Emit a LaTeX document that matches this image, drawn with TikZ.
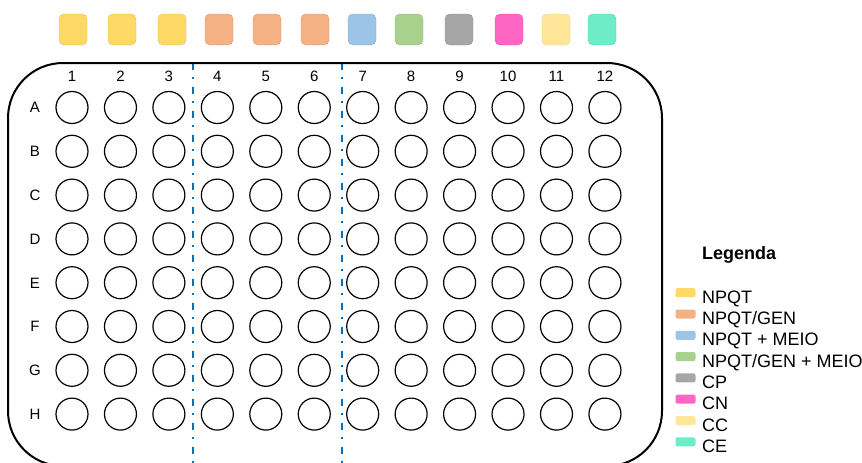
\documentclass[tikz,border=0pt]{standalone}
\usepackage{fontspec}
\setmainfont{Liberation Sans}
\begin{document}
\begin{tikzpicture}[x=1pt,y=-1pt]
        \definecolor{cyellow}{RGB}{255,217,102}
        \definecolor{corange}{RGB}{244,177,131}
        \definecolor{cblue}{RGB}{157,195,230}
        \definecolor{cgreen}{RGB}{169,209,142}
        \definecolor{cgray}{RGB}{166,166,166}
        \definecolor{cpink}{RGB}{255,102,196}
        \definecolor{clight}{RGB}{255,230,153}
        \definecolor{cteal}{RGB}{110,236,200}
        \definecolor{cline}{RGB}{0,112,192}
        \tikzset{
            well/.style={draw, circle, minimum size=32pt, inner sep=0pt, line width=1.2pt},
            lab/.style={font=\fontsize{15}{18}\selectfont, inner sep=0pt, anchor=base},
            tag/.style={rounded corners=5pt, minimum width=28pt, minimum height=31pt, inner sep=0pt},
            swatch/.style={rounded corners=2pt, minimum width=20pt, minimum height=9pt, inner sep=0pt},
            legtext/.style={font=\fontsize{18}{21}\selectfont, anchor=base west, inner sep=0pt},
            divider/.style={cline, line width=1.8pt, dash pattern=on 7pt off 7pt on 2pt off 8pt}
        }
        \useasboundingbox (0,0) rectangle (862,463);
        % colour tags above the columns
        \foreach \x/\c [count=\k] in {73/cyellow, 122/cyellow, 172/cyellow, 219/corange, 267/corange, 315/corange,
                                       362/cblue, 409/cgreen, 459/cgray, 509/cpink, 556/clight, 602/cteal}
            \node[tag, fill=\c, draw=\c!88!black, line width=0.4pt] (tag-\k) at (\x, 29.5) {};
        % plate
        \coordinate (div1-top) at (193, 63);
        \coordinate (div1-bot) at (193, 465);
        \coordinate (div2-top) at (342, 63);
        \coordinate (div2-bot) at (342, 465);
        \draw[divider] (div1-top) -- (div1-bot);
        \draw[divider] (div2-top) -- (div2-bot);
        \draw[line width=2pt, rounded corners=55pt] (8, 63) rectangle (662, 466);
        \foreach \col in {1,...,12}
            \node[lab] (col-\col) at ({72+48.45*(\col-1)}, 81.5) {\col};
        \foreach \row [count=\i] in {A,B,C,D,E,F,G,H} {
            \node[lab] (row-\row) at (35, {107.5+43.8*(\i-1)+5.4}) {\row};
            \foreach \col in {1,...,12}
                \node[well] (w-\row-\col) at ({72+48.45*(\col-1)}, {107.5+43.8*(\i-1)}) {};
        }
        % legend
        \node[legtext, font=\bfseries\fontsize{18}{21}\selectfont] (legenda) at (702, 259.5) {Legenda};
        \node[swatch, fill=cyellow] (sw-1) at (685.5, 292.7) {};
        \node[legtext] (lg-1) at (702, 303.2) {NPQT};
        \node[swatch, fill=corange] (sw-2) at (685.5, 314.0) {};
        \node[legtext] (lg-2) at (702, 324.5) {NPQT/GEN};
        \node[swatch, fill=cblue] (sw-3) at (685.5, 335.3) {};
        \node[legtext] (lg-3) at (702, 345.8) {NPQT + MEIO};
        \node[swatch, fill=cgreen] (sw-4) at (685.5, 356.6) {};
        \node[legtext] (lg-4) at (702, 367.1) {NPQT/GEN + MEIO};
        \node[swatch, fill=cgray] (sw-5) at (685.5, 377.9) {};
        \node[legtext] (lg-5) at (702, 388.4) {CP};
        \node[swatch, fill=cpink] (sw-6) at (685.5, 399.2) {};
        \node[legtext] (lg-6) at (702, 409.7) {CN};
        \node[swatch, fill=clight] (sw-7) at (685.5, 420.5) {};
        \node[legtext] (lg-7) at (702, 431.0) {CC};
        \node[swatch, fill=cteal] (sw-8) at (685.5, 441.8) {};
        \node[legtext] (lg-8) at (702, 452.3) {CE};
    \end{tikzpicture}
\end{document}
